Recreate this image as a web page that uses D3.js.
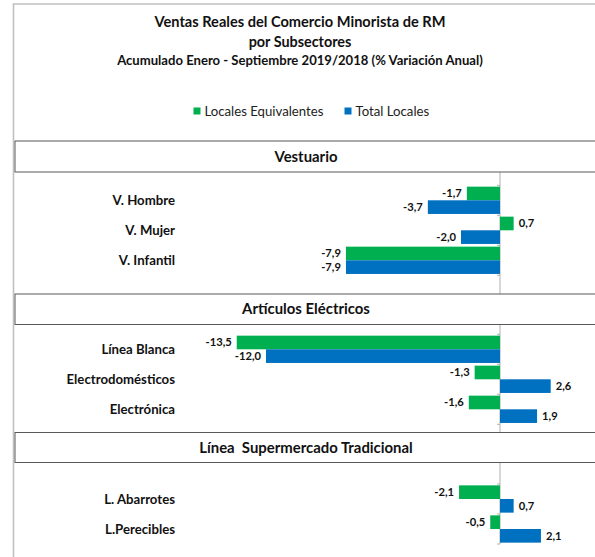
<!DOCTYPE html>
<html>
<head>
<meta charset="utf-8">
<script src="https://cdn.jsdelivr.net/npm/d3@7"></script>
<style>
  body { margin: 0; background: #fff; }
  svg { display: block; font-family: Lato, "Open Sans", sans-serif; }
</style>
</head>
<body>
<svg id="chart" width="595" height="557"></svg>
<script>
  /*
   * Data
   */

  var TITLE_LINES = [
    "Ventas Reales del Comercio Minorista de RM",
    "por Subsectores",
    "Acumulado Enero - Septiembre 2019/2018 (% Variación Anual)"
  ];

  var SERIES = ["Locales Equivalentes", "Total Locales"];

  var SECTIONS = ["Vestuario", "Artículos Eléctricos", "Línea  Supermercado Tradicional"];

  var CATEGORIES = [
    ["V. Hombre", "V. Mujer", "V. Infantil"],
    ["Línea Blanca", "Electrodomésticos", "Electrónica"],
    ["L. Abarrotes", "L.Perecibles"]
  ];

  var LOCALES_EQUIV = [
    [-1.7, 0.7, -7.9],
    [-13.5, -1.3, -1.6],
    [-2.1, -0.5]
  ];

  var TOTAL_LOCALES = [
    [-3.7, -2.0, -7.9],
    [-12.0, 2.6, 1.9],
    [0.7, 2.1]
  ];

  /*
   * Layout
   */

  var COLORS = ["#00b050", "#0070c0"];
  var ZERO_X = 500;          // where the value axis sits
  var PX_PER_UNIT = 19.5;
  var STEP = 30;             // height of one category
  var BOX_LEFT = 15;
  var BOX_RIGHT = 597;
  var BOX_TOP = [141, 294, 432.5];
  var BOX_H = [31, 30.5, 30];
  var PLOT_TOP = [185.3, 334.3, 484];
  var LABEL_X = 175;

  var svg = d3.select("#chart");

  var fmt = d3.formatLocale({
    decimal: ",", thousands: ".", grouping: [3], currency: ["$", ""], minus: "-"
  }).format(".1f");

  var x = d3.scaleLinear()
    .domain([-14, 4])
    .range([ZERO_X - 14 * PX_PER_UNIT, ZERO_X + 4 * PX_PER_UNIT]);

  // outer chart frame (right side falls outside the picture)
  svg.append("path")
    .attr("d", "M13.5,557 V4 H596")
    .attr("fill", "none")
    .attr("stroke", "#c0c0c0")
    .attr("stroke-width", 1.6);

  // titles
  var titleSizes = [14.6, 14.4, 13.1];
  var titleY = [27, 47, 64.5];
  TITLE_LINES.forEach(function (t, i) {
    svg.append("text")
      .attr("x", 300)
      .attr("y", titleY[i])
      .attr("text-anchor", "middle")
      .attr("font-weight", "bold")
      .attr("font-size", titleSizes[i])
      .attr("fill", "#111")
      .text(t);
  });

  // legend
  var legendX = [193.5, 344.5];
  var legend = svg.append("g").attr("class", "legend");
  SERIES.forEach(function (s, i) {
    legend.append("rect")
      .attr("x", legendX[i])
      .attr("y", 107.5)
      .attr("width", 7)
      .attr("height", 7)
      .attr("fill", COLORS[i]);
    legend.append("text")
      .attr("x", legendX[i] + 11)
      .attr("y", 115.5)
      .attr("font-size", 13.2)
      .attr("fill", "#222")
      .text(s);
  });

  // zero axis, continuous behind the section boxes
  var lastTop = PLOT_TOP[PLOT_TOP.length - 1];
  var lastEnd = lastTop + STEP * CATEGORIES[CATEGORIES.length - 1].length;
  svg.append("line")
    .attr("x1", x(0)).attr("x2", x(0))
    .attr("y1", BOX_TOP[0] + BOX_H[0]).attr("y2", lastEnd)
    .attr("stroke", "#b0b0b0")
    .attr("stroke-width", 1);

  SECTIONS.forEach(function (name, si) {
    var cats = CATEGORIES[si];
    var rows = cats.map(function (c, i) {
      return { cat: c, values: [LOCALES_EQUIV[si][i], TOTAL_LOCALES[si][i]] };
    });

    var y = d3.scaleBand()
      .domain(cats)
      .range([PLOT_TOP[si], PLOT_TOP[si] + STEP * cats.length])
      .paddingInner(0.09)
      .paddingOuter(0.045);
    var ySub = d3.scaleBand()
      .domain(d3.range(SERIES.length))
      .range([0, y.bandwidth()]);

    // section header box
    svg.append("rect")
      .attr("x", BOX_LEFT)
      .attr("y", BOX_TOP[si])
      .attr("width", BOX_RIGHT - BOX_LEFT)
      .attr("height", BOX_H[si])
      .attr("fill", "#fff")
      .attr("stroke", "#595959")
      .attr("stroke-width", 1);
    svg.append("text")
      .attr("x", (BOX_LEFT + BOX_RIGHT) / 2)
      .attr("y", BOX_TOP[si] + BOX_H[si] / 2)
      .attr("dy", "0.35em")
      .attr("text-anchor", "middle")
      .attr("font-weight", "bold")
      .attr("font-size", 14.9)
      .attr("fill", "#111")
      .style("white-space", "pre")
      .text(name);

    var g = svg.append("g").attr("class", "section");

    // tick marks at category boundaries
    var bounds = d3.range(cats.length + 1).map(function (i) {
      return PLOT_TOP[si] + i * y.step();
    });
    g.selectAll(".tick")
      .data(bounds)
      .enter().append("line")
      .attr("class", "tick")
      .attr("x1", x(0) - 3).attr("x2", x(0))
      .attr("y1", function (d) { return d; })
      .attr("y2", function (d) { return d; })
      .attr("stroke", "#b0b0b0");

    // category labels
    g.selectAll(".cat")
      .data(rows)
      .enter().append("text")
      .attr("class", "cat")
      .attr("x", LABEL_X)
      .attr("y", function (d) { return y(d.cat) + y.bandwidth() / 2; })
      .attr("dy", "0.35em")
      .attr("text-anchor", "end")
      .attr("font-weight", "bold")
      .attr("font-size", 13.2)
      .attr("fill", "#111")
      .text(function (d) { return d.cat; });

    // bars and value labels
    rows.forEach(function (r) {
      r.values.forEach(function (v, k) {
        var yy = y(r.cat) + ySub(k);
        g.append("rect")
          .attr("x", x(Math.min(0, v)))
          .attr("y", yy)
          .attr("width", Math.abs(x(v) - x(0)))
          .attr("height", ySub.bandwidth())
          .attr("fill", COLORS[k]);
        g.append("text")
          .attr("x", v < 0 ? x(v) - 5 : x(v) + 5)
          .attr("y", yy + ySub.bandwidth() / 2)
          .attr("dy", "0.35em")
          .attr("text-anchor", v < 0 ? "end" : "start")
          .attr("font-weight", "bold")
          .attr("font-size", 11.2)
          .attr("fill", "#111")
          .text(fmt(v));
      });
    });
  });
</script>
</body>
</html>
